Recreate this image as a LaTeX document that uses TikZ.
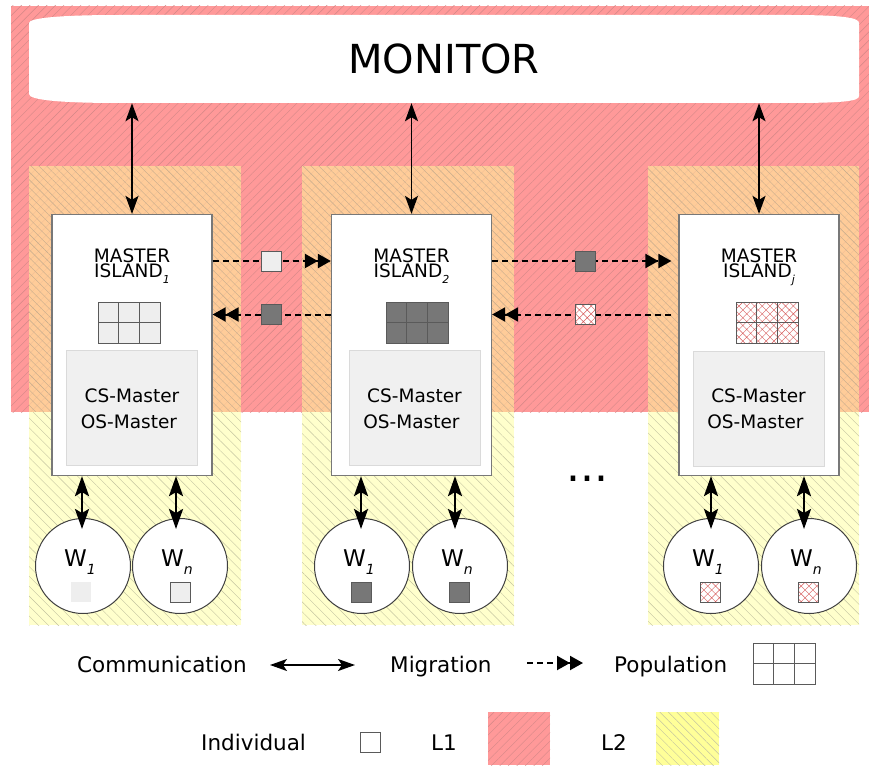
\documentclass[tikz,border=0pt]{standalone}
\usepackage{fontspec}
\setmainfont{DejaVu Sans}
\usepackage{graphicx}
\usetikzlibrary{arrows.meta,patterns.meta}
\definecolor{lred}{RGB}{255,153,153}
\definecolor{lorange}{RGB}{255,204,153}
\definecolor{lyellow}{RGB}{255,255,204}
\definecolor{lyellowleg}{RGB}{255,255,153}
\definecolor{hred}{RGB}{210,135,135}
\definecolor{horange}{RGB}{195,170,140}
\definecolor{horangeb}{RGB}{240,190,150}
\definecolor{hyellow}{RGB}{195,195,160}
\definecolor{boxgray}{RGB}{120,120,120}
\definecolor{csfill}{RGB}{240,240,240}
\definecolor{csline}{RGB}{218,218,218}
\definecolor{indlight}{RGB}{238,238,238}
\definecolor{inddark}{RGB}{119,119,119}
\definecolor{gridcol}{RGB}{90,90,90}
\definecolor{xred}{RGB}{215,90,90}
\newcommand\fsmon{\fontsize{40}{40}\selectfont}
\newcommand\fsmaster{\fontsize{18.5}{15}\selectfont}
\newcommand\fsw{\fontsize{23}{23}\selectfont}
\newcommand\fssub{\fontsize{14}{14}\selectfont\itshape}
\newcommand\fsisub{\fontsize{11}{11}\selectfont\itshape}
\newcommand\fsleg{\fontsize{21.5}{21.5}\selectfont}
\newcommand\fsdots{\fontsize{44}{44}\selectfont}
\newcommand\popgrid[4]{%
  \node[popbox,#4] (#1) at ({#2+31},{#3+20.5}) {};
  \draw[popline] ({#2+62/3},#3) -- ({#2+62/3},{#3+41})
                 ({#2+124/3},#3) -- ({#2+124/3},{#3+41})
                 (#2,{#3+20.5}) -- ({#2+62},{#3+20.5});
}
\begin{document}
\begin{tikzpicture}[x=1pt,y=-1pt,
  masterbox/.style={draw=boxgray, line width=1.2pt, fill=white, minimum width=160pt, minimum height=261pt, inner sep=0pt},
  csbox/.style={draw=csline, line width=1pt, fill=csfill, minimum width=131pt, minimum height=115pt, inner sep=0pt},
  popbox/.style={draw=gridcol, line width=1pt, minimum width=62pt, minimum height=41pt, inner sep=0pt},
  popline/.style={draw=gridcol, line width=1pt},
  indiv/.style={draw=gridcol, line width=1pt, solid, minimum size=20pt, inner sep=0pt},
  worker/.style={circle, draw=black!75, line width=1pt, fill=white, minimum size=95pt, inner sep=0pt},
  xhatch/.style={preaction={fill=white}, pattern={Hatch[angle=45,distance=5.5pt,line width=0.4pt]}, pattern color=xred},
  comm/.style={line width=1.8pt, {Stealth[length=18pt,width=13pt,inset=4pt]}-{Stealth[length=18pt,width=13pt,inset=4pt]}},
  wcomm/.style={line width=2.6pt, {Stealth[length=20pt,width=14pt,inset=4pt]}-{Stealth[length=20pt,width=14pt,inset=4pt]}},
  legcomm/.style={line width=1.4pt, {Stealth[length=17pt,width=12pt,inset=4pt]}-{Stealth[length=17pt,width=12pt,inset=4pt]}},
  migr/.style={line width=2pt, dash pattern=on 6pt off 4pt, -{Triangle[length=13pt,width=14pt,sep=0pt] Triangle[length=13pt,width=14pt,sep=0pt]}},
  txt/.style={inner sep=0pt, anchor=base}
]
\useasboundingbox (0,0) rectangle (869,765);
% L1 region
\fill[lred] (11,6) rectangle (869,412);
\fill[pattern={Lines[angle=45,distance=6pt,line width=0.4pt]}, pattern color=hred] (11,6) rectangle (869,412);
% island regions
\foreach \a/\b in {29/241,302/514,648/859}{
  \fill[lorange] (\a,166) rectangle (\b,412);
  \fill[pattern={Lines[angle=45,distance=6pt,line width=0.3pt]}, pattern color=horangeb] (\a,166) rectangle (\b,412);
  \fill[pattern={Lines[angle=-45,distance=5.5pt,line width=0.4pt]}, pattern color=horange] (\a,166) rectangle (\b,412);
  \fill[lyellow] (\a,412) rectangle (\b,625);
  \fill[pattern={Lines[angle=-45,distance=7pt,line width=0.4pt]}, pattern color=hyellow] (\a,412) rectangle (\b,625);
}
% monitor
\fill[white] (29,23) -- (29,94) .. controls (29,100) and (60,103) .. (120,103) -- (790,103)
  .. controls (845,103) and (859,101) .. (859,96) -- (859,23)
  .. controls (859,18) and (845,15) .. (790,15) -- (120,15)
  .. controls (60,15) and (29,18) .. (29,23) -- cycle;
\node[inner sep=0pt, minimum width=830pt, minimum height=88pt] (mon) at (444,59) {\fsmon MONITOR};

% ---------- island 1
\node[masterbox] (m1) at (132,345) {};
\node[csbox] (cs1) at (131.5,407.5) {};
\popgrid{p1}{98}{302}{fill=indlight}
\node[txt, align=center, font=\fsmaster] (t1a) at (132,277) {MASTER\\ISLAND\raisebox{-6.5pt}{\fsisub 1}};
\node[txt] (t1c) at (132,402) {\fsmaster CS-Master};
\node[txt] (t1d) at (129,428) {\fsmaster OS-Master};
\node[worker] (w11) at (83,566) {};
\node[worker] (w1n) at (180,566) {};
\node[txt, anchor=base west] (t1e) at (64,566) {\fsw W\raisebox{-8pt}{\fssub 1}};
\node[txt, anchor=base west] (t1f) at (161,566) {\fsw W\raisebox{-8pt}{\fssub n}};
\node[indiv, draw=none, fill=indlight] (i11) at (81,592) {};
\node[indiv, fill=indlight] (i1n) at (180,592) {};

% ---------- island 2
\node[masterbox] (m2) at (411.5,345) {};
\node[csbox] (cs2) at (414.5,407.5) {};
\popgrid{p2}{386}{302}{fill=inddark}
\node[txt, align=center, font=\fsmaster] (t2a) at (411.5,277) {MASTER\\ISLAND\raisebox{-6.5pt}{\fsisub 2}};
\node[txt] (t2c) at (414.5,402) {\fsmaster CS-Master};
\node[txt] (t2d) at (411.5,428) {\fsmaster OS-Master};
\node[worker] (w21) at (362,566) {};
\node[worker] (w2n) at (460,566) {};
\node[txt, anchor=base west] (t2e) at (343,566) {\fsw W\raisebox{-8pt}{\fssub 1}};
\node[txt, anchor=base west] (t2f) at (441,566) {\fsw W\raisebox{-8pt}{\fssub n}};
\node[indiv, fill=inddark] (i21) at (361,592) {};
\node[indiv, fill=inddark] (i2n) at (459,592) {};

% ---------- island 3
\node[masterbox] (m3) at (759,345) {};
\node[csbox] (cs3) at (758.5,408.5) {};
\popgrid{p3}{736}{302}{xhatch}
\node[txt, align=center, font=\fsmaster] (t3a) at (759,277) {MASTER\\ISLAND\raisebox{-6.5pt}{\fsisub j}};
\node[txt] (t3c) at (758.5,402) {\fsmaster CS-Master};
\node[txt] (t3d) at (755.5,428) {\fsmaster OS-Master};
\node[worker] (w31) at (711,566) {};
\node[worker] (w3n) at (809,566) {};
\node[txt, anchor=base west] (t3e) at (692,566) {\fsw W\raisebox{-8pt}{\fssub 1}};
\node[txt, anchor=base west] (t3f) at (790,566) {\fsw W\raisebox{-8pt}{\fssub n}};
\node[indiv, xhatch] (i31) at (710,592) {};
\node[indiv, xhatch] (i3n) at (808,592) {};

% ellipsis
\node[txt] (dots) at (587,481) {\fsdots ...};

% monitor connections
\draw[comm] (mon.south -| m1.north) -- (m1.north);
\draw[comm] (mon.south -| m2.north) -- (m2.north);
\draw[comm] (mon.south -| m3.north) -- (m3.north);

% worker connections
\coordinate (a11) at ([xshift=-1pt]w11.north);
\coordinate (a1n) at ([xshift=-4pt]w1n.north);
\coordinate (a21) at ([xshift=-1pt]w21.north);
\coordinate (a2n) at ([xshift=-5pt]w2n.north);
\coordinate (a31) at (w31.north);
\coordinate (a3n) at ([xshift=-5pt]w3n.north);
\foreach \m/\w in {m1/a11,m1/a1n,m2/a21,m2/a2n,m3/a31,m3/a3n}{
  \draw[wcomm] (\m.south -| \w) -- ([yshift=-11pt]\w);
}

% migration
\coordinate (rowa) at (0,261);
\coordinate (rowb) at (0,314.5);
\draw[migr] (m1.east |- rowa) -- node[indiv, fill=indlight] (s1) {} (m2.west |- rowa);
\draw[migr] (m2.west |- rowb) -- node[indiv, fill=inddark] (s2) {} (m1.east |- rowb);
\draw[migr, shorten >=7pt] (m2.east |- rowa) -- node[indiv, fill=inddark] (s3) {} (m3.west |- rowa);
\draw[migr, shorten <=7pt] (m3.west |- rowb) -- node[indiv, xhatch] (s4) {} (m2.east |- rowb);

% legend row 1
\node[txt, anchor=base west] (lg1) at (77,672) {\fsleg Communication};
\coordinate (ca) at (270,665);
\coordinate (cb) at (355,665);
\draw[legcomm] (ca) -- (cb);
\node[txt, anchor=base west] (lg2) at (390,672) {\fsleg Migration};
\coordinate (ma) at (527,663);
\coordinate (mb) at (583,663);
\draw[migr] (ma) -- (mb);
\node[txt, anchor=base west] (lg3) at (614,672) {\fsleg Population};
\popgrid{pl}{753}{643}{fill=white}

% legend row 2
\node[txt, anchor=base west] (lg4) at (201,750) {\fsleg Individual};
\node[indiv, fill=white] (li) at (370,742) {};
\node[txt, anchor=base west] (lg5) at (431,750) {\fsleg L1};
\fill[lred] (488,712) rectangle (550,765);
\fill[pattern={Lines[angle=45,distance=6pt,line width=0.4pt]}, pattern color=hred] (488,712) rectangle (550,765);
\node[txt, anchor=base west] (lg6) at (601,750) {\fsleg L2};
\fill[lyellowleg] (656,712) rectangle (719,765);
\fill[pattern={Lines[angle=-45,distance=6pt,line width=0.4pt]}, pattern color=hyellow] (656,712) rectangle (719,765);
\end{tikzpicture}
\end{document}
